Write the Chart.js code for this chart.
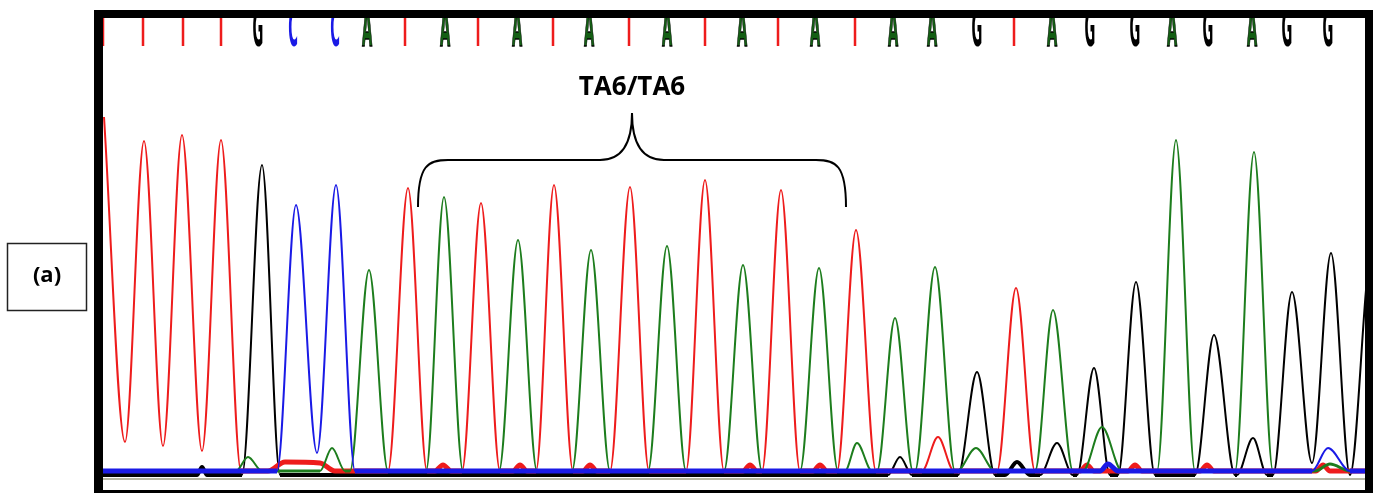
<!DOCTYPE html>
<html>
<head>
<meta charset="utf-8">
<script src="https://cdn.jsdelivr.net/npm/chart.js@4"></script>
<style>
  html, body { margin: 0; padding: 0; background: #fff; }
  #chromatogram { display: block; }
</style>
</head>
<body>
<canvas id="chromatogram" width="1378" height="493"></canvas>
<script>
// base calls along the top and their scan positions
const bases   = ["T","T","T","T","G","C","C","A","T","A","T","A","T","A","T","A","T","A","T","A","T","A","A","G","T","A","G","G","A","G","A","G","G"];
const basePos = [0, 40, 80, 118, 155, 190, 232, 264, 302, 342, 375, 414, 450, 486, 526, 564, 602, 639, 675, 712, 752, 790, 829, 874, 911, 949, 987, 1032, 1069, 1105, 1149, 1184, 1225];

// T trace (red)
const scanT = [1, 22, 41, 60, 79, 99, 118, 138, 165, 182, 217, 232, 285, 305, 324, 332, 340, 348, 359, 378, 397, 410, 417, 424, 433, 451, 470, 480, 487, 494, 507, 527, 546, 583, 602, 621, 640, 647, 654, 659, 678, 697, 710, 717, 724, 734, 753, 773, 819, 835, 851, 894, 913, 932, 977, 984, 991, 1025, 1032, 1039, 1097, 1104, 1111, 1213, 1220, 1227, 1262];
const sigT  = [354, 29, 330, 25, 336, 20, 331, 0, 0, 9, 8, 0, 0, 283, 0, 0, 6, 0, 0, 268, 0, 0, 6, 0, 0, 286, 0, 0, 6, 0, 0, 284, 0, 0, 291, 0, 0, 6, 0, 0, 281, 0, 0, 6, 0, 0, 241, 0, 0, 34, 0, 0, 183, 0, 0, 6, 0, 0, 6, 0, 0, 6, 0, 0, 6, 0, 0];

// A trace (green)
const scanA = [0, 133, 145, 159, 217, 229, 242, 247, 266, 285, 323, 341, 360, 396, 415, 434, 469, 488, 507, 545, 564, 583, 621, 640, 659, 697, 716, 735, 742, 754, 769, 774, 792, 810, 812, 832, 852, 854, 873, 892, 932, 950, 970, 980, 999, 1019, 1054, 1073, 1092, 1132, 1151, 1170, 1212, 1227, 1247, 1262];
const sigA  = [0, 0, 14, 0, 0, 23, 0, 0, 201, 0, 0, 274, 0, 0, 231, 0, 0, 221, 0, 0, 225, 0, 0, 206, 0, 0, 203, 0, 0, 28, 0, 0, 153, 0, 0, 204, 0, 0, 23, 0, 0, 161, 0, 0, 44, 0, 0, 331, 0, 0, 319, 0, 0, 7, 0, 0];

// C trace (blue)
const scanC = [0, 174, 193, 214, 233, 252, 997, 1005, 1015, 1209, 1225, 1247, 1262];
const sigC  = [0, 0, 266, 18, 286, 0, 0, 7, 0, 0, 23, 0, 0];

// G trace (black)
const scanG = [0, 94, 99, 104, 139, 159, 177, 785, 797, 809, 855, 874, 892, 902, 914, 927, 937, 954, 970, 974, 991, 1007, 1015, 1033, 1052, 1092, 1111, 1132, 1134, 1150, 1164, 1170, 1189, 1209, 1228, 1247, 1263];
const sigG  = [-4, -4, 4, -4, -4, 306, -4, -4, 14, -4, -4, 99, -4, -4, 9, -4, -4, 28, -4, -4, 103, -4, -4, 189, -4, -4, 136, -4, -4, 33, -4, -4, 179, 8, 218, -4, 181];

const bracketFrom = 315, bracketTo = 743;
const bracketLabel = "TA6/TA6";
const panelLabel = "(a)";

const colT = "#ee1c1c", colA = "#1d7d1d", colC = "#1a1ae6", colG = "#000000";
const letterCol = { T: colT, A: "#145f14", C: colC, G: colG };

function pts(xs, ys) { return xs.map((x, i) => ({ x: x, y: ys[i] })); }

function trace(label, xs, ys, color, thick, order) {
  return {
    label: label,
    data: pts(xs, ys),
    borderColor: color,
    borderWidth: 2,
    borderJoinStyle: "round",
    pointRadius: 0,
    cubicInterpolationMode: "monotone",
    order: order,
    segment: {
      borderWidth: c => Math.max(c.p0.parsed.y, c.p1.parsed.y) < 12 ? thick : 2
    }
  };
}

const decor = {
  id: "decor",
  afterDatasetsDraw(chart) {
    const c = chart.ctx, xs = chart.scales.x, ys = chart.scales.y, a = chart.chartArea;
    c.save();
    // thin line under the baseline
    c.strokeStyle = "#9c9c84";
    c.lineWidth = 1.5;
    c.beginPath();
    c.moveTo(a.left, ys.getPixelForValue(-8));
    c.lineTo(a.right, ys.getPixelForValue(-8));
    c.stroke();

    // base call letters
    c.beginPath();
    c.rect(a.left, a.top, a.right - a.left, a.bottom - a.top);
    c.clip();
    c.font = "bold 14px 'Liberation Sans Narrow', 'DejaVu Sans Condensed', sans-serif";
    c.textAlign = "center";
    c.textBaseline = "alphabetic";
    bases.forEach((b, i) => {
      const px = xs.getPixelForValue(basePos[i]);
      c.save();
      c.translate(px, 46);
      c.scale(1.05, 3.7);
      c.fillStyle = letterCol[b];
      c.fillText(b, 0, 0);
      if (b === "A") {
        c.strokeStyle = "#000";
        c.lineWidth = 0.4;
        c.strokeText(b, 0, 0);
      }
      c.restore();
    });
    c.restore();

    // bracket + label
    const l = xs.getPixelForValue(bracketFrom), r = xs.getPixelForValue(bracketTo);
    const m = (l + r) / 2;
    const yEnd = ys.getPixelForValue(264), yBar = ys.getPixelForValue(311), yTip = ys.getPixelForValue(358);
    c.save();
    c.strokeStyle = "#000";
    c.lineWidth = 2;
    c.beginPath();
    c.moveTo(l, yEnd);
    c.bezierCurveTo(l, yBar + 5, l + 10, yBar, l + 30, yBar);
    c.lineTo(m - 32, yBar);
    c.bezierCurveTo(m - 8, yBar, m, yBar - 20, m, yTip);
    c.bezierCurveTo(m, yBar - 20, m + 8, yBar, m + 32, yBar);
    c.lineTo(r - 30, yBar);
    c.bezierCurveTo(r - 10, yBar, r, yBar + 5, r, yEnd);
    c.stroke();
    c.fillStyle = "#000";
    c.font = "bold 26px 'Open Sans', sans-serif";
    c.textAlign = "center";
    c.textBaseline = "middle";
    c.fillText(bracketLabel, m, ys.getPixelForValue(383));
    c.restore();

    // frame
    c.save();
    c.fillStyle = "#000";
    c.fillRect(94, 10, 1279, 8);
    c.fillRect(94, 10, 9, 483);
    c.fillRect(1365, 10, 8, 483);
    c.fillRect(94, 490, 1279, 3);
    // panel label box
    c.strokeStyle = "#222";
    c.lineWidth = 1.5;
    c.strokeRect(7.5, 243.5, 79, 67);
    c.font = "bold 22px 'Open Sans', sans-serif";
    c.textAlign = "center";
    c.textBaseline = "middle";
    c.fillText(panelLabel, 47, 276);
    c.restore();
  }
};

new Chart(document.getElementById("chromatogram"), {
  type: "line",
  data: {
    datasets: [
      trace("C", scanC, sigC, colC, 5, 1),
      trace("A", scanA, sigA, colA, 3, 2),
      trace("T", scanT, sigT, colT, 5, 3),
      trace("G", scanG, sigG, colG, 4, 4)
    ]
  },
  options: {
    responsive: false,
    animation: false,
    devicePixelRatio: 1,
    layout: { padding: { left: 103, right: 13, top: 18, bottom: 2 } },
    scales: {
      x: { type: "linear", min: 0, max: 1262, display: false },
      y: { min: -20, max: 453, display: false }
    },
    plugins: { legend: { display: false }, tooltip: { enabled: false } }
  },
  plugins: [decor]
});
</script>
</body>
</html>
